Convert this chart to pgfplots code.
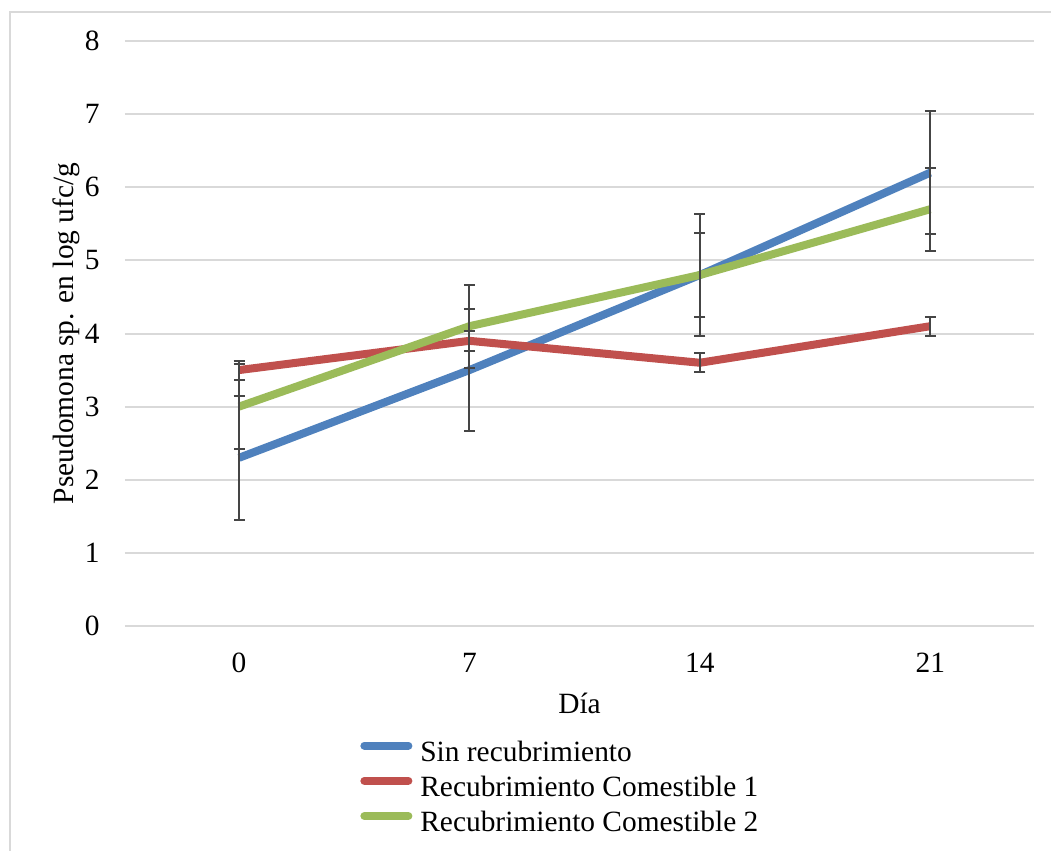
\documentclass[border=0pt]{standalone}
\usepackage{fontspec}
\setmainfont{Liberation Serif}
\usepackage{pgfplots}
\pgfplotsset{compat=1.18}
\definecolor{cblue}{HTML}{4F81BD}
\definecolor{cred}{HTML}{C0504D}
\definecolor{cgreen}{HTML}{9BBB59}
\definecolor{gridc}{HTML}{D9D9D9}
\definecolor{errc}{HTML}{454545}
\pgfplotsset{
  errset/.style={draw=none, forget plot,
    error bars/y dir=both, error bars/y explicit,
    error bars/error mark=|,
    error bars/error bar style={draw=errc, line width=1bp},
    error bars/error mark options={draw=errc, line width=1bp, mark size=2.75bp}},
}
\begin{document}
\fontsize{14.7bp}{18bp}\selectfont
\begin{tikzpicture}
\useasboundingbox (0bp,0bp) rectangle (525.5bp,425.5bp);
\draw[gridc, line width=0.8bp] (525.5bp,419.5bp) -- (5bp,419.5bp) -- (5bp,0bp);
\begin{axis}[
  at={(62.5bp,112.5bp)}, anchor=south west,
  scale only axis, width=454.5bp, height=292.5bp,
  xmin=-0.495, xmax=3.45, ymin=0, ymax=8,
  xtick={0,1,2,3}, xticklabels={0,7,14,21},
  ytick={0,1,...,8},
  axis line style={draw=none},
  major tick length=0pt,
  ymajorgrids, grid style={gridc, line width=1bp},
  clip=false,
  /pgf/number format/assume math mode=true,
  tick label style={font=\fontsize{14.7bp}{18bp}\selectfont},
  yticklabel style={anchor=east, inner sep=0pt, xshift=-12.5bp},
  xticklabel style={anchor=center, inner sep=0pt, yshift=-18.5bp},
  xlabel={Día}, ylabel={Pseudomona sp. en log ufc/g},
  label style={font=\fontsize{14.7bp}{18bp}\selectfont},
  xlabel style={at={(axis description cs:0.5,-0.1316)}, anchor=center},
  ylabel style={at={(axis description cs:-0.0649,0.5)}, anchor=center},
  legend style={at={(axis description cs:0.2585,-0.1935)}, anchor=north west,
    draw=none, fill=none, inner sep=0pt, row sep=3.6bp, column sep=4bp,
    nodes={inner sep=0pt, text height=11bp, text depth=3bp},
    font=\fontsize{14.7bp}{18bp}\selectfont},
  legend cell align=left,
  legend image code/.code={\draw[#1, line width=4bp, line cap=round] (2bp,4bp) -- (24bp,4bp);},
]
\addplot[cblue, line width=4bp, mark=none] coordinates {
  (0,2.3) (1,3.5) (2,4.8) (3,6.2)
};
\addlegendentry{Sin recubrimiento}
\addplot[cred, line width=4bp, mark=none] coordinates {
  (0,3.5) (1,3.9) (2,3.6) (3,4.1)
};
\addlegendentry{Recubrimiento Comestible 1}
\addplot[cgreen, line width=4bp, mark=none] coordinates {
  (0,3.0) (1,4.1) (2,4.8) (3,5.7)
};
\addlegendentry{Recubrimiento Comestible 2}
\addplot[errset] coordinates {
  (0,2.3) +- (0,0.85)
  (1,3.5) +- (0,0.84)
  (2,4.8) +- (0,0.84)
  (3,6.2) +- (0,0.84)
};
\addplot[errset] coordinates {
  (0,3.5) +- (0,0.13)
  (1,3.9) +- (0,0.14)
  (2,3.6) +- (0,0.13)
  (3,4.1) +- (0,0.13)
};
\addplot[errset] coordinates {
  (0,3.0) +- (0,0.58)
  (1,4.1) +- (0,0.57)
  (2,4.8) +- (0,0.57)
  (3,5.7) +- (0,0.57)
};
\end{axis}
\end{tikzpicture}
\end{document}
